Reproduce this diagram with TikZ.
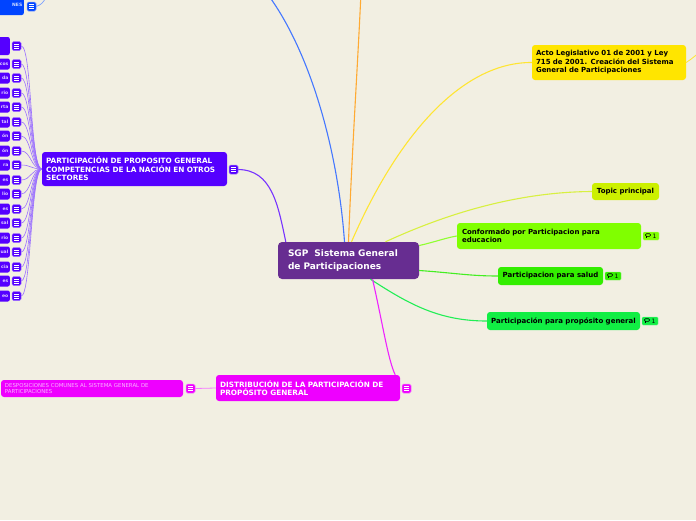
\documentclass[tikz,border=0pt]{standalone}
\usepackage{fontspec}
\setmainfont{DejaVu Sans}
\definecolor{bg}{HTML}{F2EFE2}
\definecolor{cCenter}{HTML}{672D91}
\definecolor{cPurple}{HTML}{5500FF}
\definecolor{cBlue}{HTML}{0044FF}
\definecolor{cYellow}{HTML}{FFE500}
\definecolor{cTopic}{HTML}{CCF000}
\definecolor{cConf}{HTML}{80FF00}
\definecolor{cSalud}{HTML}{33EE00}
\definecolor{cProp}{HTML}{11EE44}
\definecolor{cMag}{HTML}{EE00FF}
\definecolor{lBlue}{HTML}{4477FF}
\definecolor{lOrange}{HTML}{FFAA33}
\definecolor{lYellow}{HTML}{FFE533}
\definecolor{lTopic}{HTML}{D8F040}
\definecolor{lConf}{HTML}{90FF30}
\definecolor{lSalud}{HTML}{44EE22}
\definecolor{lProp}{HTML}{22EE55}
\definecolor{lMag}{HTML}{EE22FF}
\definecolor{lPurple}{HTML}{7733FF}
\definecolor{lFan}{HTML}{9B70FF}
\begin{document}
\begin{tikzpicture}[x=1pt,y=-1pt,
  box/.style={rounded corners=3pt, inner ysep=0pt, inner xsep=5pt, align=left,
    font=\fontsize{7}{8.5}\selectfont\bfseries, anchor=center},
  onebox/.style={rounded corners=3pt, inner sep=0pt, anchor=center,
    font=\fontsize{7}{8.5}\selectfont\bfseries},
  upbox/.style={box, font=\fontsize{7.3}{8.5}\selectfont\bfseries},
  leaf/.style={fill=cPurple, rounded corners=2pt, anchor=east, inner sep=0pt,
    minimum width=40pt, minimum height=11pt, text width=37pt, align=right,
    text=white!80!cPurple, font=\fontsize{4.5}{5}\selectfont\bfseries},
  menuicon/.style={fill=#1, draw=#1!55!white, line width=0.5pt, rounded corners=1.5pt,
    minimum width=9pt, minimum height=9pt, inner sep=0pt,
    path picture={
      \foreach \d in {-2,0,2}{
        \draw[white, line width=0.7pt] ([shift={(-2.4pt,\d pt)}]path picture bounding box.center) -- ++(4.8pt,0pt);}
    }},
  comm/.style={fill=#1, draw=#1!60!white, line width=0.4pt, rounded corners=1pt,
    minimum width=16pt, minimum height=8pt, inner sep=0pt,
    font=\fontsize{6}{6}\selectfont,
    path picture={
      \draw[black, line width=0.6pt] ([shift={(-5.5pt,-0.3pt)}]path picture bounding box.center) rectangle ++(5pt,2.6pt);
      \draw[black, line width=0.6pt] ([shift={(-4.5pt,-0.3pt)}]path picture bounding box.center) -- ++(0pt,-1.4pt);
    }},
  conn/.style={line width=1.1pt},
  fan/.style={lFan, line width=0.6pt}
]
\useasboundingbox (0,0) rectangle (696,520);
\fill[bg] (0,0) rectangle (696,520);
\clip (0,0) rectangle (696,520);

% off-canvas free ends
\coordinate (blueEnd) at (266,-8);
\coordinate (orangeEnd) at (361,-8);
\coordinate (actoEnd) at (700,52);
\coordinate (topBlueEnd) at (47,-4);

% central node
\node[box, fill=cCenter, text=white, rounded corners=4pt, minimum width=141pt, minimum height=37pt,
  inner xsep=10pt, text width=121pt, font=\fontsize{9}{12.5}\selectfont\bfseries] (center) at (348.5,260.5)
  {SGP\ \ Sistema General\\de Participaciones};

% right side
\node[box, fill=cYellow, text=black, minimum width=154pt, minimum height=35pt, text width=146pt, inner xsep=4pt] (acto) at (609,62.5)
  {Acto Legislativo 01 de 2001 y Ley\\715 de 2001. Creación del Sistema\\General de Participaciones};
\node[onebox, fill=cTopic, text=black, minimum width=67pt, minimum height=17pt] (topic) at (625.5,191.5)
  {Topic principal};
\node[box, fill=cConf, text=black, minimum width=184pt, minimum height=26pt, text width=174pt] (conf) at (549,236)
  {Conformado por Participacion para\\educacion};
\node[onebox, fill=cSalud, text=black, minimum width=105pt, minimum height=18pt] (salud) at (550.5,276)
  {Participacion para salud};
\node[onebox, fill=cProp, text=black, minimum width=153pt, minimum height=18pt] (prop) at (563.5,321)
  {Participación para propósito general};
\node[comm=cConf] (cm1) at (651,236) {\hspace*{7pt}1};
\node[comm=cSalud] (cm2) at (613,276) {\hspace*{7pt}1};
\node[comm=cProp] (cm3) at (650,321) {\hspace*{7pt}1};

% bottom
\node[upbox, fill=cMag, text=white, minimum width=184pt, minimum height=26pt, text width=176pt, inner xsep=4pt] (distr) at (308,388)
  {DISTRIBUCIÓN DE LA PARTICIPACIÓN DE\\PROPÓSITO GENERAL};
\node[menuicon=cMag] (distrIcon) at (406.5,388.5) {};
\node[box, fill=cMag, text=white!70!cMag, minimum width=182pt, minimum height=17pt, inner xsep=4pt, text width=174pt,
  font=\fontsize{5.4}{6.3}\selectfont] (desp) at (92,388.5)
  {DESPOSICIONES COMUNES AL SISTEMA GENERAL DE\\PARTICIPACIONES};
\node[menuicon=cMag] (despIcon) at (190.5,388.5) {};

% left
\node[upbox, fill=cPurple, text=white, minimum width=185pt, minimum height=34pt, text width=177pt, inner xsep=4pt] (part) at (134.5,169)
  {PARTICIPACIÓN DE PROPOSITO GENERAL\\COMPETENCIAS DE LA NACIÓN EN OTROS\\SECTORES};
\node[menuicon=cPurple] (partIcon) at (233.5,169.5) {};

% top-left blue node
\node[leaf, fill=cBlue, minimum height=20pt, text=white!80!cBlue] (blue) at (24,5) {NES};
\node[menuicon=cBlue] (blueIcon) at (31.5,6.5) {};

% big left node
\node[leaf, minimum height=18pt] (big) at (10,46) {};
\node[menuicon=cPurple] (bigIcon) at (16.5,46) {};
\draw[fan] (part.west) .. controls (30,169) and (32,46) .. (bigIcon.east);

\foreach \y/\t [count=\i] in {64/cos,78/da,93/rio,107/rta,122/tal,136/ón,151/ón,165/ra,180/es,194/lio,209/es,223/sal,238/rio,252/ual,267/cia,281/es,296/eo}{
  \node[leaf] (l\i) at (10,\y) {\t};
  \node[menuicon=cPurple] (m\i) at (16.5,\y) {};
  \draw[fan] (part.west) .. controls (31,169) and (31,\y) .. (m\i.east);
}

% connectors from center
\draw[conn, lBlue] ([xshift=-4pt]center.north) .. controls (338,150) and (310,50) .. (blueEnd);
\draw[conn, lOrange] (center.north) .. controls (352,150) and (358,60) .. (orangeEnd);
\draw[conn, lYellow] ([xshift=3pt]center.north) .. controls (400,130) and (465,62) .. (acto.west);
\draw[conn, lTopic] ([xshift=37pt]center.north) .. controls (450,212) and (520,192) .. (topic.west);
\draw[conn, lConf] ([yshift=15pt]center.east) .. controls (435,242) and (445,238) .. (conf.west);
\draw[conn, lSalud] ([yshift=-10pt]center.east) .. controls (455,273) and (470,276) .. (salud.west);
\draw[conn, lProp] ([xshift=22pt]center.south) .. controls (410,305) and (440,321) .. (prop.west);
\draw[conn, lMag] ([xshift=24pt]center.south) .. controls (382,320) and (388,360) .. ([xshift=-5pt]distr.north east);
\draw[conn, lPurple] (partIcon.east) .. controls (272,170) and (278,205) .. ([xshift=8pt]center.north west);
\draw[lMag!60!white, line width=0.8pt] (distr.west) -- (despIcon.east);
\draw[conn, lYellow, line width=0.8pt] (acto.east) .. controls (690,60) .. (actoEnd);
\draw[lBlue!70!white, line width=0.7pt] (blueIcon.east) .. controls (42,4) .. (topBlueEnd);
\end{tikzpicture}
\end{document}
